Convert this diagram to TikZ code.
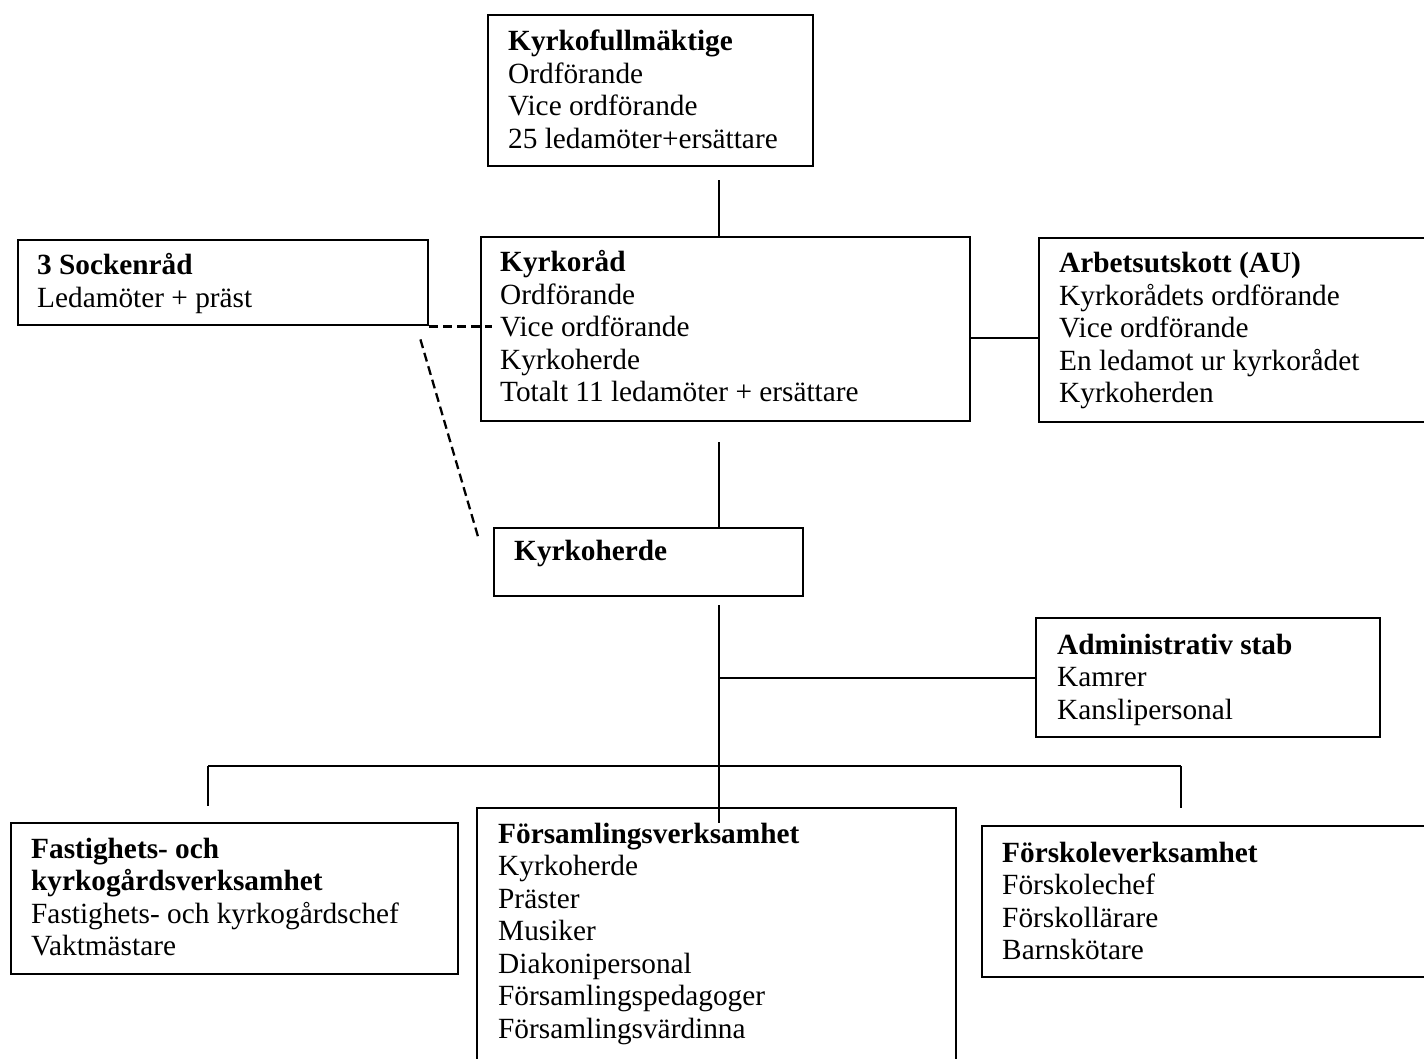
\documentclass[tikz,border=0pt]{standalone}
\usepackage{fontspec}
\setmainfont{Liberation Serif}
\usepackage{tikz}
\usetikzlibrary{calc}
\usetikzlibrary{positioning}
\newcommand{\rader}[1]{\begin{tabular}[t]{@{}l@{}}#1\end{tabular}}

\begin{document}
\begin{tikzpicture}[x=1pt,y=-1pt,
	box/.style={draw,line width=2.4pt,anchor=north west,inner sep=0pt},
	txt/.style={anchor=base west,inner sep=0pt,font=\fontsize{29.3}{32.5}\selectfont},
	link/.style={line width=2.2pt},
	streck/.style={line width=2.3pt,dash pattern=on 9pt off 5pt}]
		\useasboundingbox (0,0) rectangle (1424,1059);
		\clip (0,0) rectangle (1424,1059);
		\fill[white] (0,0) rectangle (1424,1059);
		\coordinate (spine) at (719,0);
		\node[box,minimum width=325,minimum height=151] (kf) at (487,14) {};
		\node[box,minimum width=410,minimum height=85] (sock) at (17,239) {};
		\node[box,minimum width=489,minimum height=184] (kr) at (480,236) {};
		\node[box,minimum width=420,minimum height=184] (au) at (1038,237) {};
		\node[box,minimum width=309,minimum height=68] (kh) at (493,527) {};
		\node[box,minimum width=344,minimum height=119] (adm) at (1035,617) {};
		\node[box,minimum width=447,minimum height=151] (fast) at (10,822) {};
		\node[box,minimum width=479,minimum height=290] (fors) at (476,807) {};
		\node[box,minimum width=460,minimum height=151] (forsk) at (981,825) {};
		\node[txt] (kft) at ($(kf.north west)+(21,37)$) {\rader{\textbf{Kyrkofullmäktige}\\Ordförande\\Vice ordförande\\25 ledamöter+ersättare}};
		\node[txt] (sockt) at ($(sock.north west)+(20,36)$) {\rader{\textbf{3 Sockenråd}\\Ledamöter + präst}};
		\node[txt] (krt) at ($(kr.north west)+(20,36)$) {\rader{\textbf{Kyrkoråd}\\Ordförande\\Vice ordförande\\Kyrkoherde\\Totalt 11 ledamöter + ersättare}};
		\node[txt] (aut) at ($(au.north west)+(21,36)$) {\rader{\textbf{Arbetsutskott (AU)}\\Kyrkorådets ordförande\\Vice ordförande\\En ledamot ur kyrkorådet\\Kyrkoherden}};
		\node[txt] (kht) at ($(kh.north west)+(21,33)$) {\rader{\textbf{Kyrkoherde}}};
		\node[txt] (admt) at ($(adm.north west)+(22,37)$) {\rader{\textbf{Administrativ stab}\\Kamrer\\Kanslipersonal}};
		\node[txt] (fastt) at ($(fast.north west)+(21,36)$) {\rader{\textbf{Fastighets- och}\\\textbf{kyrkogårdsverksamhet}\\Fastighets- och kyrkogårdschef\\Vaktmästare}};
		\node[txt] (forst) at ($(fors.north west)+(22,36)$) {\rader{\textbf{Församlingsverksamhet}\\Kyrkoherde\\Präster\\Musiker\\Diakonipersonal\\Församlingspedagoger\\Församlingsvärdinna}};
		\node[txt] (forskt) at ($(forsk.north west)+(21,37)$) {\rader{\textbf{Förskoleverksamhet}\\Förskolechef\\Förskollärare\\Barnskötare}};
		\coordinate (busl) at (208,766);
		\coordinate (busr) at (1181,766);
		\draw[link,shorten >=13] (kr.north -| spine) -- (kf.south -| spine);
		\draw[link,shorten <=20] (kr.south -| spine) -- (kh.north -| spine);
		\draw[link,shorten <=8,shorten >=-16] (kh.south -| spine) -- (fors.north -| spine);
		\draw[link] ($(kr.east)+(0,9)$) -- ($(kr.east -| au.west)+(0,9)$);
		\draw[link] (adm.west) -- (adm.west -| spine);
		\draw[link] (busl) -- (busr);
		\draw[link,shorten >=16] (busl) -- (busl |- fast.north);
		\draw[link,shorten >=17] (busr) -- (busr |- forsk.north);
		\draw[streck] (sock.south east) -- ($(sock.south east -| kr.west)+(12,0)$);
		\draw[streck] ($(sock.south east)+(-9,13)$) -- ($(kh.north west)+(-14,13)$);
	\end{tikzpicture}
\end{document}
